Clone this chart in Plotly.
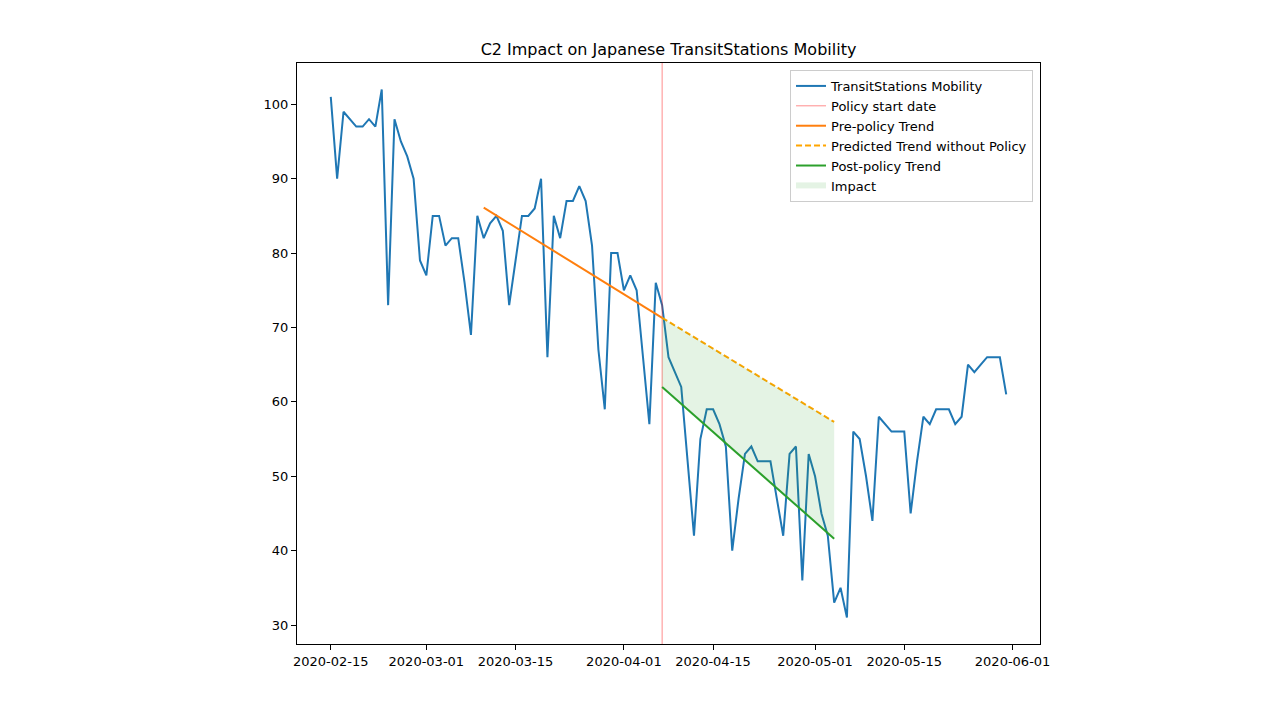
import pandas as pd
import plotly.graph_objects as go

# ---------------- data ----------------
start_date = "2020-02-15"
mobility = [101, 90, 99, 98, 97, 97, 98, 97, 102, 73,
            98, 95, 93, 90, 79, 77, 85, 85, 81, 82,
            82, 76, 69, 85, 82, 84, 85, 83, 73, 79,
            85, 85, 86, 90, 66, 85, 82, 87, 87, 89,
            87, 81, 67, 59, 80, 80, 75, 77, 75, 66,
            57, 76, 73, 66, 64, 62, 52, 42, 55, 59,
            59, 57, 54, 40, 47, 53, 54, 52, 52, 52,
            47, 42, 53, 54, 36, 53, 50, 45, 42, 33,
            35, 31, 56, 55, 50, 44, 58, 57, 56, 56,
            56, 45, 52, 58, 57, 59, 59, 59, 57, 58,
            65, 64, 65, 66, 66, 66, 61]
dates = pd.date_range(start_date, periods=len(mobility), freq="D")

policy_date = "2020-04-07"
pre_trend_dates = ["2020-03-10", "2020-04-07"]
pre_trend_values = [86.1, 71.3]
pred_trend_dates = ["2020-04-07", "2020-05-04"]
pred_trend_values = [71.3, 57.3]
post_trend_dates = ["2020-04-07", "2020-05-04"]
post_trend_values = [62.0, 41.6]

x_tick_labels = ["2020-02-15", "2020-03-01", "2020-03-15", "2020-04-01",
                 "2020-04-15", "2020-05-01", "2020-05-15", "2020-06-01"]
y_tick_values = [30, 40, 50, 60, 70, 80, 90, 100]

title = "C2 Impact on Japanese TransitStations Mobility"

# ---------------- axis ranges (matplotlib-like 5% margins) ----------------
ymin, ymax = min(mobility), max(mobility)
ypad = (ymax - ymin) * 0.05
y_range = [ymin - ypad, ymax + ypad]
span = dates[-1] - dates[0]
x_range = [dates[0] - span * 0.05, dates[-1] + span * 0.05]

FONT = "DejaVu Sans"
fig = go.Figure()

fig.add_trace(go.Scatter(x=dates, y=mobility, mode="lines",
                         name="TransitStations Mobility",
                         line=dict(color="#1f77b4", width=2)))
fig.add_trace(go.Scatter(x=[policy_date, policy_date], y=y_range, mode="lines",
                         name="Policy start date",
                         line=dict(color="rgba(255,0,0,0.45)", width=1)))
fig.add_trace(go.Scatter(x=pre_trend_dates, y=pre_trend_values, mode="lines",
                         name="Pre-policy Trend",
                         line=dict(color="#ff7f0e", width=2)))
fig.add_trace(go.Scatter(x=pred_trend_dates, y=pred_trend_values, mode="lines",
                         name="Predicted Trend without Policy",
                         line=dict(color="#FFA500", width=2, dash="6px,3px")))
fig.add_trace(go.Scatter(x=post_trend_dates, y=post_trend_values, mode="lines",
                         name="Post-policy Trend",
                         line=dict(color="#2ca02c", width=2)))
fig.add_trace(go.Scatter(x=list(pred_trend_dates) + list(post_trend_dates[::-1]),
                         y=list(pred_trend_values) + list(post_trend_values[::-1]),
                         mode="none", fill="toself",
                         fillcolor="rgba(44,160,44,0.13)",
                         name="Impact"))

axis_common = dict(showline=True, mirror=True, linecolor="black", linewidth=1,
                   ticks="outside", ticklen=5, tickcolor="black", tickwidth=1,
                   showgrid=False, zeroline=False,
                   tickfont=dict(family=FONT, size=13, color="black"))

fig.update_layout(
    width=1280, height=720,
    paper_bgcolor="white", plot_bgcolor="white",
    margin=dict(l=289, r=248, t=55, b=84),
    title=dict(text=title, x=0.5, xref="paper", xanchor="center",
               y=1 - 41 / 720, yref="container", yanchor="middle",
               font=dict(family=FONT, size=16, color="black")),
    xaxis=dict(type="date", range=x_range, tickvals=x_tick_labels,
               ticktext=x_tick_labels, **axis_common),
    yaxis=dict(range=y_range, tickvals=y_tick_values, **axis_common),
    legend=dict(x=0.9906, y=0.988, xanchor="right", yanchor="top",
                bgcolor="rgba(255,255,255,0.8)", bordercolor="#cccccc",
                borderwidth=1, font=dict(family=FONT, size=13, color="black"),
                itemwidth=30, tracegroupgap=0),
    showlegend=True,
)

fig.write_html("out.html")
